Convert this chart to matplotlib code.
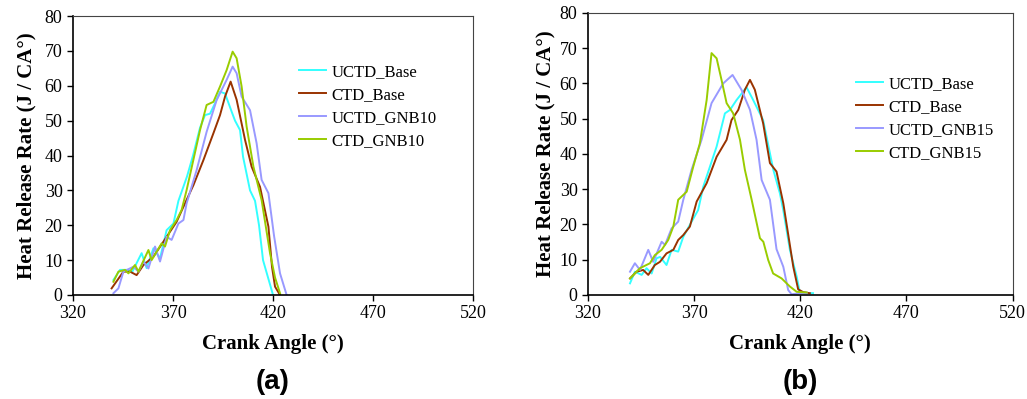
# Heat release rate vs crank angle, two panels

import matplotlib.pyplot as plt

# panel (a)
a_uctd_base_x = [340.2, 343.5, 347.7, 349.5, 354.3, 356.8, 360.2, 363.5, 366.8, 370.2, 372.7, 377, 380,
                 383.5, 386, 388.5, 391, 393.5, 396, 399.3, 401, 403.5, 405, 408.5, 411, 413, 415, 417.5, 420]
a_uctd_base_y = [4.3, 7.2, 7.2, 6.5, 12, 7.7, 13.4, 10.5, 18.6, 20.5, 27, 34, 40,
                 48, 51.6, 52, 55, 58.3, 57.8, 52.6, 50, 47.3, 39.7, 30, 27, 20, 10, 5, 0]

a_ctd_base_x = [339.3, 345.2, 348.5, 351.8, 355.2, 360.2, 365.2, 371.8, 376, 380.2, 385.2, 390.2,
                393.5, 396, 398.8, 401.8, 404, 406, 409.3, 413.5, 417.7, 419.5, 421, 423.5]
a_ctd_base_y = [1.9, 6.7, 6.7, 5.7, 8.6, 11, 15.3, 21, 26.3, 31.5, 38.7, 46.4,
                51.6, 56.9, 61.2, 56, 50, 44.5, 36.8, 31, 19.6, 8, 2.4, 0]

a_uctd_gnb_x = [340.2, 342.7, 345.2, 350.2, 352.7, 355.2, 357.7, 361, 363.5, 366.8, 369.3, 372.7, 375.2, 376.8,
                381.8, 386.8, 391.8, 396.8, 399.8, 401.8, 404.3, 408.5, 411.8, 414.3, 417.7, 420.5, 423.5, 426.8]
a_uctd_gnb_y = [0.5, 1.9, 6.7, 8.1, 6.7, 9.6, 7.6, 13.9, 9.6, 16.7, 15.8, 20.5, 21.5, 26.3,
                35.8, 46.8, 55.9, 61.7, 65.5, 63.6, 56.9, 53, 43.5, 33, 29.2, 17, 6.2, 0]

a_ctd_gnb_x = [340.2, 342.7, 346, 347.7, 351, 352.7, 357.7, 359.3, 364.3, 366, 368.5, 371.8, 374.3, 376.8,
               383.5, 386.8, 390.2, 393.5, 396.8, 399.8, 401.8, 404.3, 406.8, 410.2, 414.3, 418.5, 421, 423.5]
a_ctd_gnb_y = [3.8, 6.7, 7.2, 6.2, 8.6, 6.7, 12.9, 10, 14.8, 13.9, 18.6, 21.5, 24.4, 30.1,
               47.3, 54.5, 55.4, 59.8, 64.5, 69.8, 67.9, 59.8, 48.3, 36.8, 27.2, 12, 5, 0.5]

# panel (b)
b_uctd_base_x = [339.8, 342.1, 345.3, 347.6, 350, 352.3, 354, 357, 359.4, 362.5, 364.9, 368, 371.9, 374.3,
                 380.6, 384.5, 386.9, 390, 394.7, 397.8, 402.5, 407.3, 410.4, 412, 415.1, 418.3, 419.8, 426]
b_uctd_base_y = [3.3, 6.6, 5.7, 7.6, 6.1, 10.4, 10.8, 8.5, 12.8, 12.3, 16.5, 19.9, 24.1, 30.7,
                 42.1, 51.5, 52.5, 55.3, 58.9, 55.3, 49.6, 35.5, 28.8, 24, 12.8, 5.2, 0.7, 0.5]

b_ctd_base_x = [339.8, 342.9, 346, 348.4, 351.5, 353.9, 357, 360.2, 362.5, 364.9, 368, 371.2, 375.9, 380.6,
                385.3, 387.6, 390.8, 393.9, 396.3, 398.6, 402.5, 405.7, 408.8, 412, 416.7, 419, 421.4, 424.5]
b_ctd_base_y = [4.7, 6.6, 7.1, 5.7, 8.5, 9.4, 11.8, 12.8, 15.6, 17, 19.4, 26.5, 31.7, 39.2,
                44, 49.6, 52.5, 58.2, 61, 58.2, 48.7, 37.4, 35, 26, 8, 1.6, 0.8, 0.5]

b_uctd_gnb_x = [339.8, 342.1, 344.5, 348.4, 350.7, 354.7, 356.3, 359.4, 362.5, 364.9, 368.8, 373.5, 378.2,
                383.7, 388.1, 392.3, 396.3, 399.4, 401.8, 405.7, 408.8, 412, 414.3, 415.9, 419.8, 423]
b_uctd_gnb_y = [6.6, 9, 7.1, 12.8, 9.4, 15.1, 14.2, 18.9, 20.8, 27, 35.5, 44, 54.4,
                60, 62.4, 58.2, 52.5, 44, 32.6, 27, 13, 8, 1.4, 0.2, 0.5, 0.5]

b_ctd_gnb_x = [339.8, 344.5, 349.2, 351.5, 354.7, 357.8, 360.2, 362.5, 366.5, 369.6, 372.7, 375.9, 378.2, 380.6,
               382.9, 385.3, 388.4, 391.6, 393.9, 397.1, 401, 402.6, 404.9, 407.2, 411.2, 415.1, 418.3, 423]
b_ctd_gnb_y = [4.7, 7.6, 9, 11.3, 12.8, 15.6, 19.4, 27, 29.3, 36.4, 43, 55.3, 68.6, 67.1,
               61, 54.4, 51.5, 44, 35.5, 27, 16.1, 15.1, 9.9, 6.1, 4.7, 2.4, 0.9, 0.7]

labels_a = ['UCTD_Base', 'CTD_Base', 'UCTD_GNB10', 'CTD_GNB10']
labels_b = ['UCTD_Base', 'CTD_Base', 'UCTD_GNB15', 'CTD_GNB15']
colors = ['#33FFFF', '#993300', '#9999FF', '#99CC00']
x_ticks = [320, 370, 420, 470, 520]
y_ticks = [0, 10, 20, 30, 40, 50, 60, 70, 80]

plt.rcParams['font.family'] = 'Liberation Serif'

fig = plt.figure(figsize=(10.27, 3.99), dpi=100)
ax_a = fig.add_axes([0.0711, 0.2607, 0.3895, 0.699])
ax_b = fig.add_axes([0.5725, 0.2607, 0.4135, 0.707])

panels = [
    (ax_a, [(a_uctd_base_x, a_uctd_base_y), (a_ctd_base_x, a_ctd_base_y),
            (a_uctd_gnb_x, a_uctd_gnb_y), (a_ctd_gnb_x, a_ctd_gnb_y)], labels_a, (0.565, 0.828), 6),
    (ax_b, [(b_uctd_base_x, b_uctd_base_y), (b_ctd_base_x, b_ctd_base_y),
            (b_uctd_gnb_x, b_uctd_gnb_y), (b_ctd_gnb_x, b_ctd_gnb_y)], labels_b, (0.632, 0.776), 3),
]

for ax, series, labels, anchor, ypad in panels:
    for (xs, ys), lab, col in zip(series, labels, colors):
        ax.plot(xs, ys, color=col, lw=1.4, label=lab)
    ax.set_xlim(320, 520)
    ax.set_ylim(0, 80)
    ax.set_xticks(x_ticks)
    ax.set_yticks(y_ticks)
    ax.tick_params(direction='out', length=4, width=1, labelsize=13, color='black')
    for side in ['top', 'right']:
        ax.spines[side].set_linewidth(0.8)
        ax.spines[side].set_color('#444444')
    for side in ['left', 'bottom']:
        ax.spines[side].set_linewidth(1.2)
    ax.set_xlabel('Crank Angle (°)', fontsize=15, fontweight='bold', labelpad=8)
    ax.set_ylabel('Heat Release Rate (J / CA°)', fontsize=15, fontweight='bold', labelpad=ypad)
    ax.legend(loc='upper left', bbox_to_anchor=anchor, frameon=False, fontsize=12,
              handlelength=1.6, handletextpad=0.35, labelspacing=0.42, borderpad=0, borderaxespad=0)

fig.text(0.2658, 0.043, '(a)', fontsize=20, fontweight='bold', family='Liberation Sans',
         ha='center', va='center')
fig.text(0.779, 0.043, '(b)', fontsize=20, fontweight='bold', family='Liberation Sans',
         ha='center', va='center')

fig.savefig('out.png', dpi=100)
